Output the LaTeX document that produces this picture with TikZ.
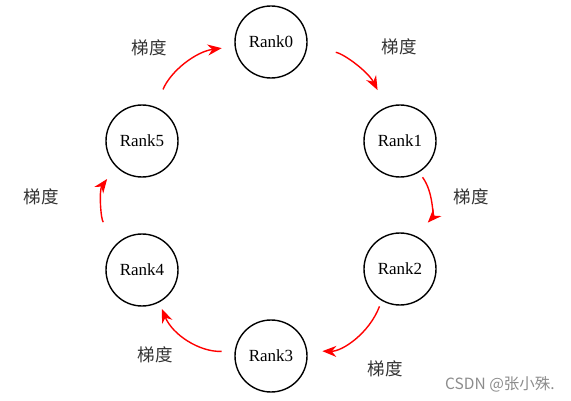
\documentclass[tikz,border=0pt]{standalone}
\usepackage{fontspec}
\setmainfont{Liberation Serif}
\newfontfamily\cjk{Noto Sans CJK SC}
\usetikzlibrary{arrows.meta, positioning}
\tikzset{
    ranknode/.style={circle, draw=black, line width=1.4pt, minimum size=72pt, inner sep=0pt, font=\fontsize{17}{19}\selectfont},
    gradarrow/.style={-{Stealth[length=14pt,width=11pt]}, line width=1.4pt, draw=red},
    gradlabel/.style={font=\cjk\fontsize{17.5}{19}\selectfont, text=black!80}
}
\begin{document}
\begin{tikzpicture}[x=1pt, y=-1pt]
    \useasboundingbox (0,0) rectangle (571,401);
    \node[ranknode] (rank0) at (271,42) {Rank0};
    \node[ranknode] (rank1) at (400,141) {Rank1};
    \node[ranknode] (rank2) at (400,269) {Rank2};
    \node[ranknode] (rank3) at (271,356) {Rank3};
    \node[ranknode] (rank4) at (142,270) {Rank4};
    \node[ranknode] (rank5) at (142,141) {Rank5};

    % gradient labels
    \node[gradlabel] (g0) at (149,48) {梯度};
    \node[gradlabel] (g1) at (399,47) {梯度};
    \node[gradlabel] (g2) at (471,197) {梯度};
    \node[gradlabel] (g3) at (385,369) {梯度};
    \node[gradlabel] (g4) at (155,355) {梯度};
    \node[gradlabel] (g5) at (41,197) {梯度};

    % ring of arrows
    \draw[gradarrow, shorten <=19pt, shorten >=13pt] (rank5.68) to[bend left=30] (rank0.187);
    \draw[gradarrow, shorten <=29pt, shorten >=19pt] (rank0.-6) to[bend left=25] (rank1.112);
    \draw[gradarrow, shorten <=6pt, shorten >=18pt] (rank1.-59) to[bend left=40] (rank2.65);
    \draw[gradarrow, shorten <=6pt, shorten >=15pt] (rank2.240) to[bend left=35] (rank3.8);
    \draw[gradarrow, shorten <=13pt, shorten >=7pt] (rank3.172) to[bend left=35] (rank4.-62);
    \draw[gradarrow, shorten <=25pt, shorten >=15pt] (rank4.126) to[bend left=40] (rank5.225);

    \node[font=\cjk\fontsize{15.5}{17}\selectfont, text=black!45] (mark) at (500,384) {CSDN @张小殊.};
\end{tikzpicture}
\end{document}
